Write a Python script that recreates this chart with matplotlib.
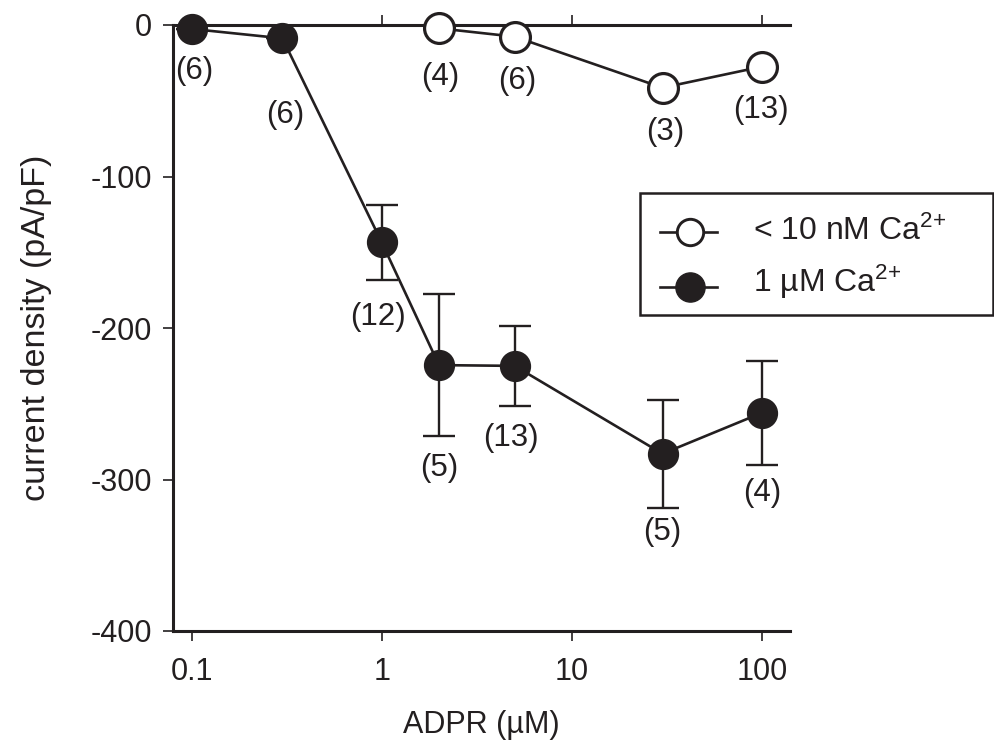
import matplotlib
matplotlib.use("Agg")
import matplotlib.pyplot as plt
from matplotlib.lines import Line2D
from matplotlib.patches import Rectangle

plt.rcParams['font.family'] = ['Liberation Sans', 'DejaVu Sans']
plt.rcParams['mathtext.fontset'] = 'custom'
plt.rcParams['mathtext.rm'] = 'Liberation Sans'
plt.rcParams['mathtext.it'] = 'Liberation Sans'

# Data
adpr_low = [2, 5, 30, 100]
cur_low = [-2.2, -7.7, -41.4, -27.5]
n_low = ["(4)", "(6)", "(3)", "(13)"]

adpr_high = [0.1, 0.3, 1, 2, 5, 30, 100]
cur_high = [-2.6, -8.8, -143.5, -224.5, -225.0, -283.0, -256.0]
err_high = [0, 0, 24.5, 47, 26.5, 35.7, 34.3]
n_high = ["(6)", "(6)", "(12)", "(5)", "(13)", "(5)", "(4)"]

xticks = [0.1, 1, 10, 100]
xticklabels = ["0.1", "1", "10", "100"]
yticks = [0, -100, -200, -300, -400]
legend_labels = ['< 10 nM Ca$\\mathregular{^{2{+}}}$', '1 µM Ca$\\mathregular{^{2{+}}}$']

# label offsets in points (dx, dy)
off_high = [(2, -30), (2, -55), (-3, -54), (0, -74), (-3, -52), (0, -56), (0, -58)]
off_low = [(1, -35), (2, -32), (2, -32), (-1, -31)]

INK = '#231f20'
W, H = 994, 743
fig = plt.figure(figsize=(W / 100, H / 100), dpi=100)
ax = fig.add_axes([173 / W, 1 - 631 / H, (790 - 173) / W, (631 - 25) / H])

ax.set_xscale('log')
ax.set_xlim(0.0797, 140.6)
ax.set_ylim(-400, 0)

lw = 1.9
ax.errorbar(adpr_high, cur_high, yerr=err_high, fmt='none', ecolor=INK,
            elinewidth=1.7, capsize=11.5, capthick=1.7, zorder=2, clip_on=False)
ax.plot(adpr_high, cur_high, '-', color=INK, lw=lw, marker='o', ms=21.5,
        mfc=INK, mec=INK, zorder=3, clip_on=False)
ax.plot(adpr_low, cur_low, '-', color=INK, lw=lw, marker='o', ms=21.5,
        mfc='white', mec=INK, mew=2.3, zorder=3, clip_on=False)

fs = 22.5
for x, y, t, o in zip(adpr_high, cur_high, n_high, off_high):
    ax.annotate(t, (x, y), xytext=o, textcoords='offset points', ha='center',
                va='center', fontsize=fs, color=INK, annotation_clip=False)
for x, y, t, o in zip(adpr_low, cur_low, n_low, off_low):
    ax.annotate(t, (x, y), xytext=o, textcoords='offset points', ha='center',
                va='center', fontsize=fs, color=INK, annotation_clip=False)

for s in ['left', 'bottom', 'top']:
    ax.spines[s].set_linewidth(2.2)
    ax.spines[s].set_color(INK)
ax.spines['right'].set_visible(False)

ax.set_xticks(xticks)
ax.set_xticklabels(xticklabels)
ax.minorticks_off()
ax.set_yticks(yticks)
ax.set_yticklabels([str(v) for v in yticks])
ax.tick_params(axis='both', direction='out', length=7, width=1.2, labelsize=22,
               colors=INK)
ax.tick_params(axis='x', top=True, pad=12)
ax.tick_params(axis='y', pad=8)

ax.set_xlabel('ADPR (µM)', fontsize=22, color=INK, labelpad=16)
ax.set_ylabel('current density (pA/pF)', fontsize=24.5, color=INK, labelpad=28)

# legend drawn in figure pixel coordinates
def fx(px):
    return px / W

def fy(py):
    return 1 - py / H

fig.add_artist(Rectangle((fx(640), fy(315)), fx(993) - fx(640), fy(193) - fy(315),
                         transform=fig.transFigure, fill=False, edgecolor=INK,
                         lw=1.8))
styles = [dict(mfc='white', mec=INK, mew=2.1, ms=19),
          dict(mfc=INK, mec=INK, ms=21)]
rows_marker = [232, 287]
rows_base = [240, 292]
for st, ym, yb, lab in zip(styles, rows_marker, rows_base, legend_labels):
    fig.add_artist(Line2D([fx(660), fx(717)], [fy(ym), fy(ym)],
                          transform=fig.transFigure, color=INK, lw=lw))
    fig.add_artist(Line2D([fx(690)], [fy(ym)], transform=fig.transFigure,
                          marker='o', color=INK, **st))
    fig.text(fx(753), fy(yb), lab, fontsize=23, color=INK, ha='left',
             va='baseline')

fig.savefig('out.png', dpi=100)
